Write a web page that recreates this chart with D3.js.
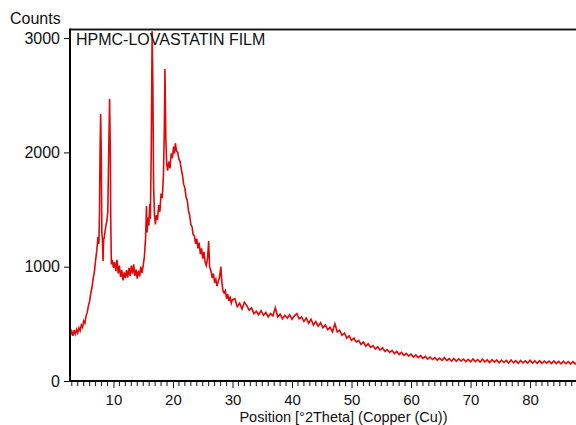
<!DOCTYPE html>
<html>
<head>
<meta charset="utf-8">
<script src="https://cdn.jsdelivr.net/npm/d3@7"></script>
<style>
html,body{margin:0;padding:0;background:#fff;}
svg{display:block;}
text{font-family:"Liberation Sans",Arial,sans-serif;fill:#111;}
</style>
</head>
<body>
<svg id="chart" width="576" height="425"></svg>
<script>
const chartTitle = "HPMC-LOVASTATIN FILM";
const yLabel = "Counts";
const xLabel = "Position [°2Theta] (Copper (Cu))";
const xTickValues = [10, 20, 30, 40, 50, 60, 70, 80];
const yTickValues = [0, 1000, 2000, 3000];

// low-angle part including the sharp reflections
const anglesLow = [2.8,3.0,3.2,3.4,3.6,3.8,4.0,4.2,4.4,4.6,4.8,5.0,5.2,5.4,5.6,5.8,6.0,6.2,6.4,6.6,6.8,7.0,7.2,7.4,7.55,7.65,7.75,7.85,7.95,8.05,8.15,8.25,8.35,8.5,8.7,8.9,9.05,9.2,9.35,9.48,9.55,9.65,9.8,10.0,10.2,10.4,10.6,10.8,11.0,11.2,11.4,11.6,11.8,12.0,12.2,12.4,12.6,12.8,13.0,13.2,13.4,13.6,13.8,14.0,14.2,14.4,14.6,14.8,15.0,15.2,15.4,15.55,15.65,15.8,15.95,16.1,16.2,16.35,16.5,16.62,16.75,16.9,17.05,17.2,17.4,17.6,17.8,18.0,18.2,18.4,18.55,18.65,18.8,18.95,19.1,19.3,19.5,19.7,19.9,20.1,20.25,20.4,20.6,20.8,21.0,21.2,21.4,21.6,21.8,22.0,22.2,22.4,22.6,22.8,23.0,23.2,23.4,23.6,23.8,24.0,24.2,24.4,24.6,24.8,25.0,25.2,25.4,25.6,25.8,26.0,26.15,26.4,26.6,26.8,27.0,27.2,27.4,27.6,27.8,28.05,28.2,28.4,28.6,28.8,29.0,29.2,29.4,29.6,29.8,30.0];
const countsLow = [400,435,395,445,410,450,420,465,440,490,470,525,505,570,600,660,700,770,820,900,955,1060,1140,1260,1200,1450,2010,2335,2000,1300,1240,1050,1230,1270,1350,1400,1480,1985,2470,1980,1400,1020,1060,990,1040,960,1060,940,1010,910,970,880,950,900,970,905,990,920,1010,940,1020,920,975,895,965,915,1000,945,1010,1090,1250,1530,1300,1430,1360,1550,1420,2000,3060,2600,1700,1450,1370,1450,1410,1540,1480,1640,1600,1800,2200,2730,2125,1900,1840,1920,1860,1990,1950,2050,1990,2080,2010,2000,1940,1920,1850,1800,1720,1690,1610,1580,1490,1450,1370,1350,1280,1270,1200,1245,1160,1210,1110,1160,1070,1130,1040,1010,1070,1225,1000,960,900,940,860,890,830,870,900,1000,870,790,770,790,720,760,700,740,680,710];

// high-angle amorphous tail
const anglesHigh = [30.4,30.8,31.2,31.6,32.0,32.4,32.8,33.2,33.6,34.0,34.4,34.8,35.2,35.6,36.0,36.4,36.8,37.2,37.6,38.0,38.4,38.8,39.2,39.6,40.0,40.4,40.8,41.2,41.6,42.0,42.4,42.8,43.2,43.6,44.0,44.4,44.8,45.2,45.6,46.0,46.4,46.8,47.2,47.6,48.0,48.4,48.8,49.2,49.6,50.0,50.4,50.8,51.2,51.6,52.0,52.4,52.8,53.2,53.6,54.0,54.4,54.8,55.2,55.6,56.0,56.4,56.8,57.2,57.6,58.0,58.4,58.8,59.2,59.6,60.0,60.4,60.8,61.2,61.6,62.0,62.4,62.8,63.2,63.6,64.0,64.4,64.8,65.2,65.6,66.0,66.4,66.8,67.2,67.6,68.0,68.4,68.8,69.2,69.6,70.0,70.4,70.8,71.2,71.6,72.0,72.4,72.8,73.2,73.6,74.0,74.4,74.8,75.2,75.6,76.0,76.4,76.8,77.2,77.6,78.0,78.4,78.8,79.2,79.6,80.0,80.4,80.8,81.2,81.6,82.0,82.4,82.8,83.2,83.6,84.0,84.4,84.8,85.2,85.6,86.0,86.4,86.8,87.2,87.6,88.0,88.4,88.8,89.2,89.6,90.0];
const countsHigh = [720,650,680,630,690,660,620,640,590,610,580,615,575,600,560,590,570,640,560,585,545,575,550,580,540,570,590,545,560,520,550,505,540,490,520,480,510,465,490,450,470,430,500,430,445,400,420,375,395,355,375,340,355,320,340,305,325,295,310,280,300,270,290,260,275,250,268,240,258,232,250,225,242,218,235,210,228,205,222,198,215,192,210,188,205,183,200,180,205,178,196,175,198,172,194,175,192,170,190,168,192,170,188,165,190,168,185,162,186,165,184,160,182,162,180,158,183,160,178,155,180,158,176,156,182,157,176,155,178,154,175,156,174,152,176,153,172,150,173,151,170,148,170,150,168,148,167,147,166,150];

// ---- drawing ----
const svg = d3.select("#chart");
const xDomain = [2.7, 90];
const yDomain = [0, 3075];
const x = d3.scaleLinear().domain(xDomain).range([70, 589.6]);
const y = d3.scaleLinear().domain(yDomain).range([381, 29.5]);

const pattern = anglesLow.map((a, i) => [a, countsLow[i]])
  .concat(anglesHigh.map((a, i) => [a, countsHigh[i]]));

svg.append("defs").append("clipPath").attr("id", "plotClip")
  .append("rect").attr("x", 70).attr("y", 29.5).attr("width", 520).attr("height", 352);

const line = d3.line().x(d => x(d[0])).y(d => y(d[1]));
svg.append("path")
  .datum(pattern)
  .attr("clip-path", "url(#plotClip)")
  .attr("fill", "none")
  .attr("stroke", "#e00808")
  .attr("stroke-width", 1.6)
  .attr("stroke-linejoin", "miter")
  .attr("d", line);

// top frame line
svg.append("line")
  .attr("x1", x(xDomain[0])).attr("x2", 576)
  .attr("y1", y(yDomain[1])).attr("y2", y(yDomain[1]))
  .attr("stroke", "#1a1a1a").attr("stroke-width", 2);

// x axis: minor ticks every degree
const minorTicks = d3.range(3, 90, 1).filter(v => v % 10 !== 0);
const gx = svg.append("g").attr("transform", `translate(0,${y(0)})`);
gx.selectAll("line.minor").data(minorTicks).join("line")
  .attr("class", "minor")
  .attr("x1", d => x(d)).attr("x2", d => x(d))
  .attr("y1", 0).attr("y2", 5)
  .attr("stroke", "#111").attr("stroke-width", 1);
const xAxis = d3.axisBottom(x).tickValues(xTickValues).tickSize(7).tickSizeOuter(0).tickPadding(6)
  .tickFormat(d3.format("d"));
gx.call(xAxis);
gx.select(".domain").attr("stroke", "#000").attr("stroke-width", 2)
  .attr("d", `M${x(xDomain[0])},0H576`);
gx.selectAll(".tick line").attr("stroke", "#111").attr("stroke-width", 1);
gx.selectAll(".tick text").style("font-size", "15px").attr("fill", "#111");

// y axis
const gy = svg.append("g").attr("transform", `translate(${x(xDomain[0])},0)`);
const yAxis = d3.axisLeft(y).tickValues(yTickValues).tickSize(6).tickSizeOuter(0).tickPadding(4)
  .tickFormat(d3.format("d"));
gy.call(yAxis);
gy.select(".domain").attr("stroke", "#000").attr("stroke-width", 2)
  .attr("d", `M0,${y(0) + 1}V${y(yDomain[1]) - 1}`);
gy.selectAll(".tick line").attr("stroke", "#111").attr("stroke-width", 1);
gy.selectAll(".tick text").style("font-size", "16px").attr("fill", "#111");

// labels
svg.append("text").attr("x", 10).attr("y", 24).style("font-size", "16px").text(yLabel);
svg.append("text").attr("x", 76).attr("y", 45).style("font-size", "16px").text(chartTitle);
svg.append("text").attr("x", 343.5).attr("y", 422).attr("text-anchor", "middle")
  .style("font-size", "14.5px").text(xLabel);
</script>
</body>
</html>
